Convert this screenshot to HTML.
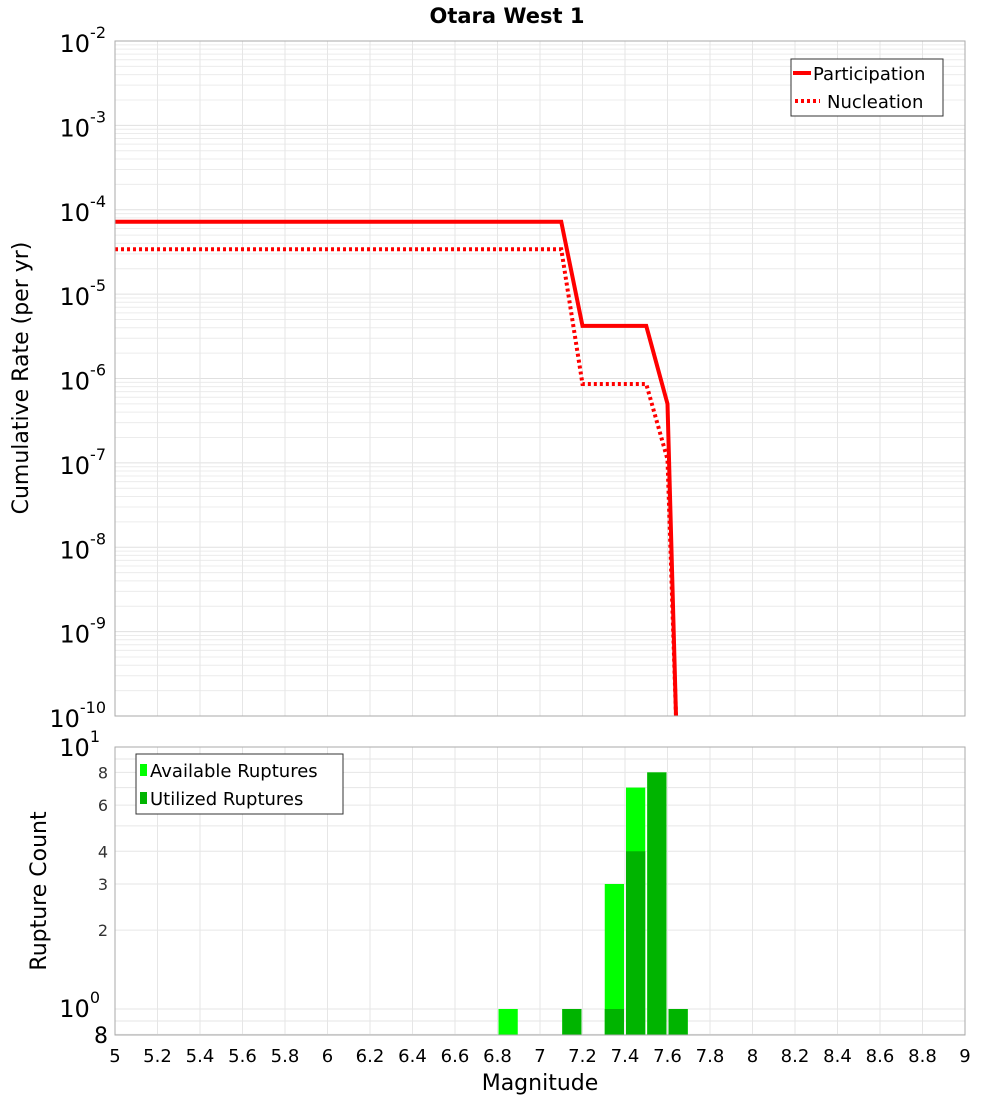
<!DOCTYPE html>
<html><head><meta charset="utf-8"><style>
body{margin:0;background:#fff;}
svg{display:block;font-family:"DejaVu Sans","Liberation Sans",sans-serif;}
</style></head><body>
<svg id="c" width="1000" height="1100" xmlns="http://www.w3.org/2000/svg">
<text x="507" y="23" text-anchor="middle" font-size="21" font-weight="bold">Otara West 1</text>
<g id="topg"></g><g id="botg"></g>
<text transform="translate(28,378) rotate(-90)" text-anchor="middle" font-size="22">Cumulative Rate (per yr)</text>
<text transform="translate(46,891) rotate(-90)" text-anchor="middle" font-size="22">Rupture Count</text>
<text x="540" y="1090" text-anchor="middle" font-size="22">Magnitude</text>
</svg>
<script>
const partMag=[5,7.1,7.2,7.5,7.6,7.64];
const partRate=[7.2e-5,7.2e-5,4.2e-6,4.2e-6,5e-7,1e-10];
const nuclMag=[5,7.1,7.2,7.5,7.6,7.64];
const nuclRate=[3.4e-5,3.4e-5,8.6e-7,8.6e-7,1.1e-7,1e-10];
const binMag=[6.85,7.15,7.35,7.45,7.55,7.65];
const availCount=[1,1,3,7,8,1];
const utilCount=[0,1,1,4,8,1];
const xTicks=[5,5.2,5.4,5.6,5.8,6,6.2,6.4,6.6,6.8,7,7.2,7.4,7.6,7.8,8,8.2,8.4,8.6,8.8,9];
const yExp=[-2,-3,-4,-5,-6,-7,-8,-9,-10];
const cntTicks=[2,3,4,6,8];

const NS="http://www.w3.org/2000/svg";
const L=115,R=965,T1=41,B1=716,T2=747,B2=1035;
const xs=m=>L+(m-5)/4*(R-L);
const y1=v=>T1+(-2-Math.log10(v))*(B1-T1)/8;
const y2=v=>1009-Math.log10(v)*262;
function el(p,t,a){const e=document.createElementNS(NS,t);for(const k in a)e.setAttribute(k,a[k]);p.appendChild(e);return e;}
const topG=document.getElementById('topg'),botG=document.getElementById('botg');
let g,t;
for(let d=-10;d<-2;d++)for(let i=1;i<10;i++){const yy=y1(i*Math.pow(10,d));g=el(topG,'line',{x1:L,x2:R,y1:yy,y2:yy,stroke:i==1?'#e0e0e0':'#ececec','stroke-width':1});

}
xTicks.forEach(m=>{g=el(topG,'line',{x1:xs(m),x2:xs(m),y1:T1,y2:B1,stroke:'#e6e6e6'});


g=el(botG,'line',{x1:xs(m),x2:xs(m),y1:T2,y2:B2,stroke:'#e6e6e6'});


const tt=el(botG,'text',{x:xs(m),y:1062,'text-anchor':'middle','font-size':18});tt.textContent=String(m);

});
yExp.forEach(e=>{const yy=y1(Math.pow(10,e));const tt=el(topG,'text',{x:106,y:yy+11,'text-anchor':'end','font-size':24});


tt.textContent='10';const s=el(tt,'tspan',{dy:-14,'font-size':16});s.textContent=String(e);});
const defs=el(topG,'defs',{});const cp=el(defs,'clipPath',{id:'clp'});el(cp,'rect',{x:L,y:T1,width:R-L,height:B1-T1});
function line(mags,rates,dash,name){const pts=mags.map((m,i)=>xs(m)+','+Math.min(y1(rates[i]),B1+4)).join(' ');
const p=el(topG,'polyline',{points:pts,fill:'none',stroke:'#ff0000','stroke-width':4,'stroke-dasharray':dash,'clip-path':'url(#clp)'});

}
line(nuclMag,nuclRate,'3,3','nucleation-line');
line(partMag,partRate,'none','participation-line');
g=el(topG,'rect',{x:L,y:T1,width:R-L,height:B1-T1,fill:'none',stroke:'#aaa'});


g=el(topG,'g',{});


el(g,'rect',{x:791,y:59,width:152,height:57,fill:'#fff',stroke:'#333'});
el(g,'line',{x1:793,x2:811,y1:73,y2:73,stroke:'#f00','stroke-width':4});
el(g,'line',{x1:795,x2:820,y1:101,y2:101,stroke:'#f00','stroke-width':4,'stroke-dasharray':'3,3'});
t=el(g,'text',{x:813,y:80,'font-size':18});t.textContent='Participation';
t=el(g,'text',{x:827,y:108,'font-size':18});t.textContent='Nucleation';
[0.8,0.9,1,2,3,4,5,6,7,8,9,10].forEach(v=>{g=el(botG,'line',{x1:L,x2:R,y1:y2(v),y2:y2(v),stroke:'#e6e6e6'});

});
cntTicks.forEach(v=>{const tt=el(botG,'text',{x:108,y:y2(v)+6,'text-anchor':'end','font-size':16,fill:'#333'});tt.textContent=String(v);

});
t=el(botG,'text',{x:108,y:B2+8,'text-anchor':'end','font-size':22});t.textContent='8';
t=el(botG,'text',{x:100,y:1017,'text-anchor':'end','font-size':24});t.textContent='10';el(t,'tspan',{dy:-14,'font-size':16}).textContent='0';
t=el(botG,'text',{x:100,y:756,'text-anchor':'end','font-size':24});t.textContent='10';el(t,'tspan',{dy:-14,'font-size':16}).textContent='1';
const bw=(xs(5.1)-xs(5))-2;
binMag.forEach((m,i)=>{if(availCount[i]>0){const b=el(botG,'rect',{x:xs(m)-bw/2,y:y2(availCount[i]),width:bw,height:B2-y2(availCount[i]),fill:'#00ff00'});

}
if(utilCount[i]>0){const b=el(botG,'rect',{x:xs(m)-bw/2,y:y2(utilCount[i]),width:bw,height:B2-y2(utilCount[i]),fill:'#00b400'});

}});
g=el(botG,'rect',{x:L,y:T2,width:R-L,height:B2-T2,fill:'none',stroke:'#aaa'});


g=el(botG,'g',{});


el(g,'rect',{x:136,y:754,width:207,height:60,fill:'#fff',stroke:'#333'});
el(g,'rect',{x:140,y:764,width:7,height:12,fill:'#00ff00'});
el(g,'rect',{x:140,y:792,width:7,height:12,fill:'#00b400'});
t=el(g,'text',{x:150,y:777,'font-size':18});t.textContent='Available Ruptures';
t=el(g,'text',{x:150,y:805,'font-size':18});t.textContent='Utilized Ruptures';
</script>
</body></html>
